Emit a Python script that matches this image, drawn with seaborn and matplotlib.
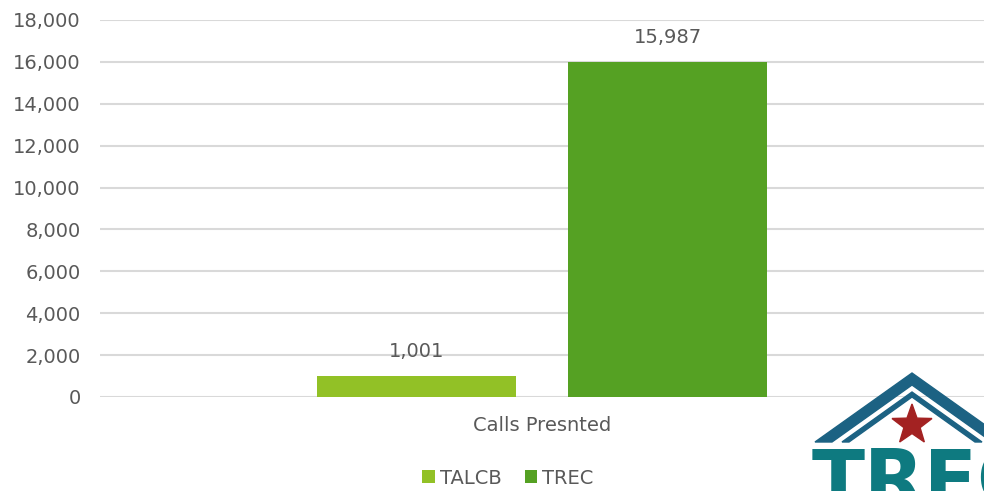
"""Calls presented: TALCB vs TREC"""
import numpy as np
import pandas as pd
import matplotlib.pyplot as plt
import seaborn as sns
from matplotlib.patches import Polygon

categories = ["Calls Presnted"]
agencies = ["TALCB", "TREC"]
calls = [1001, 15987]

colors = {"TALCB": "#92C126", "TREC": "#55A123"}
text_color = "#595959"
grid_color = "#D9D9D9"

W, H = 984, 491


def px(x, y):
    # pixel coords (from top-left) -> figure fraction
    return (x / W, 1 - y / H)


df = pd.DataFrame({
    "category": categories * len(agencies),
    "agency": agencies,
    "calls": calls,
})

sns.set_theme(style="white")
plt.rcParams["font.family"] = ["DejaVu Sans"]

fig = plt.figure(figsize=(W / 100, H / 100), dpi=100)
ax = fig.add_axes([100 / W, (H - 397) / H, (W - 100) / W, 377 / H])

sns.barplot(
    data=df, x="category", y="calls", hue="agency",
    palette=colors, width=0.568, gap=0.208, ax=ax,
    saturation=1, legend=True, linewidth=0,
)

ax.set_ylim(0, 18000)
ax.set_xlim(-0.5, 0.5)
ax.set_yticks(np.arange(0, 18001, 2000))
ax.set_yticklabels([f"{v:,}" for v in range(0, 18001, 2000)])
ax.yaxis.grid(True, color=grid_color, linewidth=1.5)
ax.set_axisbelow(True)
for s in ax.spines.values():
    s.set_visible(False)
ax.tick_params(axis="y", length=0, pad=14, labelsize=14, labelcolor=text_color)
ax.tick_params(axis="x", length=0, pad=14, labelsize=14, labelcolor=text_color)
ax.set_xlabel("")
ax.set_ylabel("")

for cont in ax.containers:
    ax.bar_label(cont, labels=[f"{v:,.0f}" for v in cont.datavalues],
                 padding=11, fontsize=14, color=text_color)

handles, labels = ax.get_legend_handles_labels()
ax.legend(handles, labels, loc="center", bbox_to_anchor=px(508, 478),
          bbox_transform=fig.transFigure, ncol=2, frameon=False,
          fontsize=14, handlelength=0.65, handleheight=0.65,
          handletextpad=0.25, columnspacing=1.2, labelcolor=text_color)

# TREC logo, bottom right (cropped by the figure edge as in the original)
roof = "#1C6283"
outer = [(815, 442), (912, 373), (1009, 442), (992, 442), (912, 385), (832, 442)]
inner = [(842, 442), (912, 392), (982, 442), (975, 442), (912, 397), (849, 442)]
for pts in (outer, inner):
    fig.patches.append(Polygon([px(*p) for p in pts], closed=True,
                               transform=fig.transFigure, color=roof, zorder=5))

ang = np.pi / 2 + np.arange(10) * np.pi / 5
rad = np.where(np.arange(10) % 2 == 0, 21, 8.5)
star = [px(912 + r * np.cos(a), 425 - r * np.sin(a)) for r, a in zip(rad, ang)]
fig.patches.append(Polygon(star, closed=True, transform=fig.transFigure,
                           color="#A32222", zorder=5))

fig.text(*px(812, 446), "TREC", ha="left", va="top", fontsize=56,
         fontweight="bold", color="#0E7A80", zorder=5)

fig.savefig("out.png", dpi=100)
plt.close(fig)
